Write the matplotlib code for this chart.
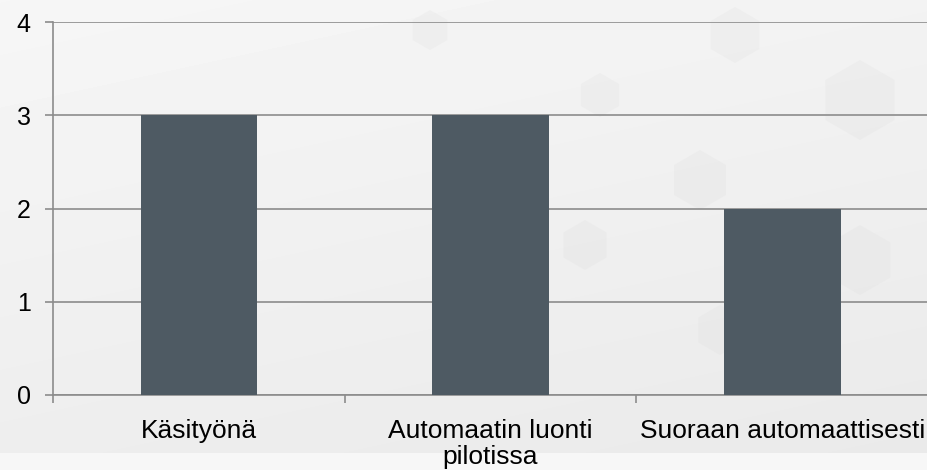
import numpy as np
import matplotlib
matplotlib.use("Agg")
import matplotlib.pyplot as plt
from matplotlib.patches import RegularPolygon

categories = ["Käsityönä", "Automaatin luonti\npilotissa", "Suoraan automaattisesti"]
values = [3, 3, 2]
y_ticks = [0, 1, 2, 3, 4]

bar_color = "#4e5a63"
grid_color = "#8c8c8c"

plt.rcParams["font.family"] = ["Liberation Sans", "DejaVu Sans"]

fig = plt.figure(figsize=(9.28, 4.70), dpi=100)

# background texture
bg = fig.add_axes([0, 0, 1, 1], zorder=0)
h, w = 470, 928
yy, xx = np.mgrid[0:h, 0:w]
base = 0.965 - 0.035 * (yy / h) - 0.015 * (xx / w)
base = np.where(yy > 452, 0.968, base)
bg.imshow(base, cmap="gray", vmin=0, vmax=1, extent=[0, w, h, 0], aspect="auto")
for (cx, cy, r) in [(600, 95, 22), (735, 35, 28), (860, 100, 40), (585, 245, 25),
                    (700, 180, 30), (860, 260, 35), (720, 330, 25), (430, 30, 20)]:
    bg.add_patch(RegularPolygon((cx, cy), 6, radius=r, facecolor="#d8d8d8",
                                edgecolor="none", alpha=0.18))
bg.set_xlim(0, w)
bg.set_ylim(h, 0)
bg.axis("off")

ax = fig.add_axes([53 / 928, 75 / 470, 875 / 928, 373 / 470], zorder=1)
ax.patch.set_alpha(0)

x = np.arange(len(categories))
ax.bar(x, values, width=0.4, color=bar_color, zorder=3)

ax.set_xlim(-0.5, len(categories) - 0.5)
ax.set_ylim(0, 4)
ax.set_yticks(y_ticks)
ax.yaxis.grid(True, color=grid_color, linewidth=1.2, zorder=1)
ax.set_axisbelow(True)

ax.set_xticks(x)
ax.set_xticklabels(categories, fontsize=19, linespacing=1.1)
ax.set_xticks(np.arange(-0.5, len(categories), 1.0), minor=True)
ax.tick_params(axis="x", which="major", length=0, pad=17)
ax.tick_params(axis="x", which="minor", length=6, width=1.2, color=grid_color, direction="out")
ax.tick_params(axis="y", which="major", length=6, width=1.2, color=grid_color, pad=10, labelsize=18)

for s in ["top", "right"]:
    ax.spines[s].set_visible(False)
for s in ["left", "bottom"]:
    ax.spines[s].set_color(grid_color)
    ax.spines[s].set_linewidth(1.2)

fig.savefig("out.png", dpi=100)
